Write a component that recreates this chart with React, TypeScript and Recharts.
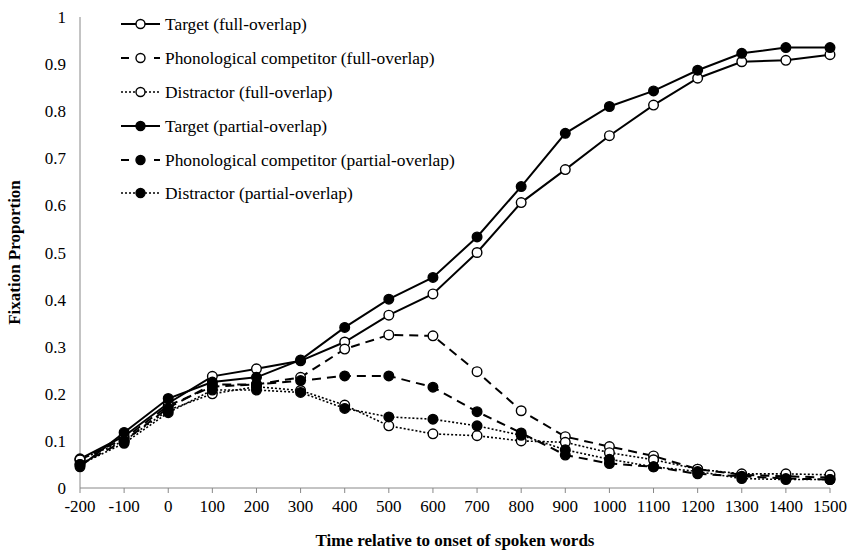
import React from "react";
import { LineChart, Line, XAxis, YAxis, Label } from "recharts";

const times = [-200, -100, 0, 100, 200, 300, 400, 500, 600, 700, 800, 900, 1000, 1100, 1200, 1300, 1400, 1500];
const yTicks = [0, 0.1, 0.2, 0.3, 0.4, 0.5, 0.6, 0.7, 0.8, 0.9, 1];

const targetFull = [0.062, 0.11, 0.18, 0.237, 0.253, 0.27, 0.31, 0.367, 0.412, 0.5, 0.606, 0.676, 0.748, 0.813, 0.87, 0.905, 0.908, 0.92];
const phonFull = [0.06, 0.105, 0.175, 0.215, 0.22, 0.235, 0.295, 0.325, 0.323, 0.247, 0.164, 0.109, 0.088, 0.068, 0.04, 0.028, 0.025, 0.022];
const distFull = [0.06, 0.1, 0.165, 0.2, 0.215, 0.207, 0.176, 0.132, 0.115, 0.111, 0.1, 0.097, 0.075, 0.06, 0.04, 0.03, 0.03, 0.028];
const targetPartial = [0.045, 0.118, 0.19, 0.225, 0.235, 0.272, 0.341, 0.401, 0.447, 0.533, 0.64, 0.753, 0.81, 0.843, 0.887, 0.923, 0.935, 0.935];
const phonPartial = [0.05, 0.1, 0.17, 0.22, 0.22, 0.228, 0.238, 0.238, 0.214, 0.162, 0.117, 0.07, 0.052, 0.045, 0.03, 0.025, 0.02, 0.018];
const distPartial = [0.05, 0.095, 0.16, 0.208, 0.208, 0.203, 0.169, 0.151, 0.146, 0.132, 0.112, 0.081, 0.061, 0.045, 0.035, 0.02, 0.018, 0.018];

const seriesNames = [
  "Target (full-overlap)",
  "Phonological competitor (full-overlap)",
  "Distractor (full-overlap)",
  "Target (partial-overlap)",
  "Phonological competitor (partial-overlap)",
  "Distractor (partial-overlap)",
];
const seriesValues = [targetFull, phonFull, distFull, targetPartial, phonPartial, distPartial];
const seriesDash = ["", "9 6", "2 2", "", "9 6", "2 2"];
const seriesWidth = [2, 2, 1.6, 2, 2, 1.6];
const seriesFilled = [false, false, false, true, true, true];

const data = times.map((t, i) => {
  const row: any = { t };
  seriesValues.forEach((vals, s) => {
    row["s" + s] = vals[i];
  });
  return row;
});

const FONT = "'Liberation Serif', 'Times New Roman', serif";

const legendTops = [24, 58, 92, 126, 160, 193];

export default function App() {
  return (
    <div style={{ position: "absolute", left: 0, top: 0, width: 848, height: 551, background: "#fff" }}>
      <LineChart
        width={848}
        height={551}
        data={data}
        margin={{ top: 17, right: 18, bottom: 0, left: 30 }}
      >
        <XAxis
          dataKey="t"
          type="number"
          domain={[-200, 1500]}
          ticks={times}
          interval={0}
          height={63}
          stroke="#888"
          tickSize={5}
          tickMargin={7}
          tick={{ fill: "#000", fontFamily: FONT, fontSize: 17 }}
        >
          <Label
            value="Time relative to onset of spoken words"
            position="insideBottom"
            offset={5}
            style={{ fill: "#000", fontFamily: FONT, fontSize: 17, fontWeight: "bold" }}
          />
        </XAxis>
        <YAxis
          domain={[0, 1]}
          ticks={yTicks}
          interval={0}
          width={50}
          stroke="#888"
          tickLine={false}
          tickSize={4}
          tickMargin={10}
          tick={{ fill: "#000", fontFamily: FONT, fontSize: 17 }}
        >
          <Label
            value="Fixation Proportion"
            angle={-90}
            position="insideLeft"
            offset={-16}
            style={{ textAnchor: "middle", fill: "#000", fontFamily: FONT, fontSize: 17, fontWeight: "bold" }}
          />
        </YAxis>
        {seriesNames.map((name, s) => (
          <Line
            key={name}
            name={name}
            dataKey={"s" + s}
            type="linear"
            stroke="#000"
            strokeWidth={seriesWidth[s]}
            strokeDasharray={seriesDash[s] || undefined}
            dot={{ r: 4.8, fill: seriesFilled[s] ? "#000" : "#fff", stroke: "#000", strokeWidth: 1.4, strokeDasharray: "" }}
            isAnimationActive={false}
          />
        ))}
      </LineChart>
      {seriesNames.map((name, s) => (
        <div
          key={name}
          style={{
            position: "absolute",
            left: 120,
            top: legendTops[s] - 11,
            height: 22,
            display: "flex",
            alignItems: "center",
            fontFamily: FONT,
            fontSize: 17.4,
            color: "#000",
            whiteSpace: "nowrap",
          }}
        >
          <svg width={42} height={22} style={{ marginRight: 3 }}>
            <line
              x1={1}
              y1={11}
              x2={40}
              y2={11}
              stroke="#000"
              strokeWidth={seriesWidth[s]}
              strokeDasharray={seriesDash[s] ? (s % 3 === 1 ? "8 25" : "2 2") : undefined}
            />
            <circle cx={20.5} cy={11} r={4.5} fill={seriesFilled[s] ? "#000" : "#fff"} stroke="#000" strokeWidth={1.4} />
          </svg>
          <span>{name}</span>
        </div>
      ))}
    </div>
  );
}
